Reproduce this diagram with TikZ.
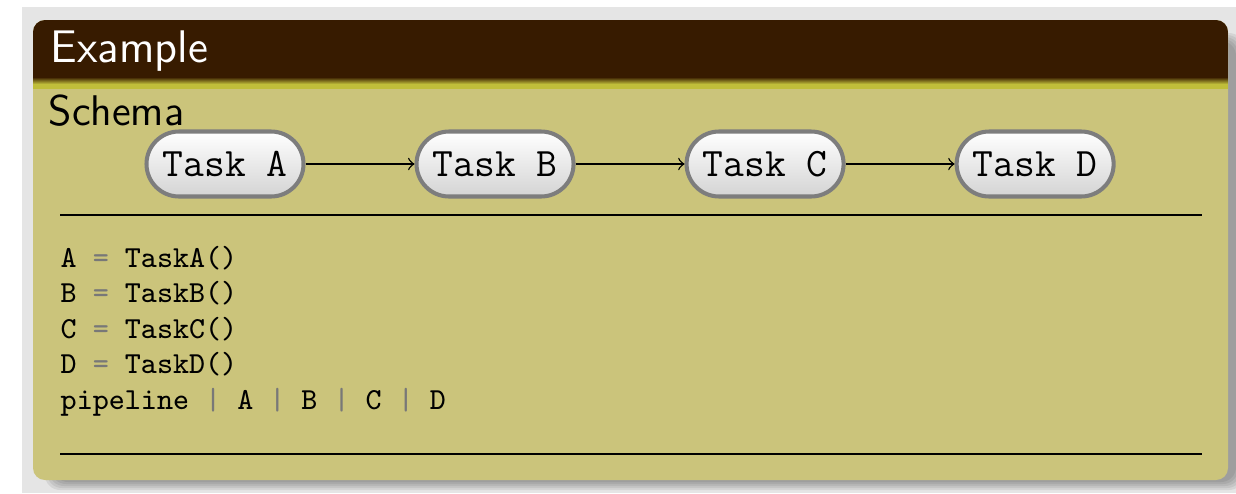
\documentclass[tikz,border=0pt]{standalone}
\usepackage{fontspec}
\usepackage{xcolor}
\usepackage{tikz}
\usetikzlibrary{positioning}

\definecolor{slidegray}{RGB}{229,229,229}
\definecolor{titlebrown}{RGB}{55,27,0}
\definecolor{stripegreen}{RGB}{192,190,58}
\definecolor{bodykhaki}{RGB}{203,196,123}
\definecolor{taskgray}{RGB}{125,125,125}
\definecolor{opgray}{RGB}{120,120,120}

\newcommand{\codeop}[1]{\textcolor{opgray}{#1}}

\tikzset{
  task/.style={draw=taskgray, line width=1.15pt, rounded corners=0.325cm,
    minimum width=1.57cm, minimum height=0.65cm, inner sep=0pt,
    top color=white, bottom color=black!17,
    font=\ttfamily\fontsize{11.5}{13}\selectfont},
  codeline/.style={anchor=base west, inner sep=0pt,
    font=\ttfamily\fontsize{8.7}{10}\selectfont},
  blocktext/.style={anchor=base west, inner sep=0pt,
    font=\sffamily\fontsize{12.2}{14}\selectfont}
}

\begin{document}
\begin{tikzpicture}
  \useasboundingbox (0,0) rectangle (12.36,4.93);
  \fill[slidegray] (0.22,0) rectangle (12.36,4.86);

  %% block shadow
  \foreach \k in {0,1,...,4}
    \fill[black, opacity=0.07, rounded corners=0.15cm]
      (0.45+0.02*\k, 0.03+0.02*\k) rectangle (12.44-0.02*\k, 4.60-0.02*\k);

  %% block
  \fill[bodykhaki, rounded corners=0.12cm] (0.33,0.13) rectangle (12.28,4.73);
  \begin{scope}
    \clip[rounded corners=0.12cm] (0.33,0.13) rectangle (12.28,4.73);
    \fill[stripegreen] (0.33,4.04) rectangle (12.28,4.15);
    \shade[top color=titlebrown, bottom color=stripegreen] (0.33,4.09) rectangle (12.28,4.16);
    \fill[titlebrown] (0.33,4.16) rectangle (12.28,4.73);
  \end{scope}

  %% titles
  \node[blocktext, text=white, font=\sffamily\fontsize{13}{15}\selectfont] (title) at (0.50,4.31) {Example};
  \node[blocktext] (schema) at (0.48,3.68) {Schema};

  %% tasks
  \node[task] (a) at (2.25,3.29) {Task A};
  \node[task, right=1.09cm of a] (b) {Task B};
  \node[task, right=1.09cm of b] (c) {Task C};
  \node[task, right=1.09cm of c] (d) {Task D};
  \draw[->] (a) -- (b);
  \draw[->] (b) -- (c);
  \draw[->] (c) -- (d);

  %% rules
  \coordinate (ruleA) at (0.60,2.78);
  \coordinate (ruleB) at (12.02,2.78);
  \coordinate (ruleC) at (0.60,0.39);
  \coordinate (ruleD) at (12.02,0.39);
  \draw[line width=0.45pt] (ruleA) -- (ruleB);
  \draw[line width=0.45pt] (ruleC) -- (ruleD);

  %% code
  \foreach \t [count=\i] in {A,B,C,D}
    \node[codeline] (code\i) at (0.60,2.26-0.355*\i+0.355) {\t{} \codeop{=} Task\t()};
  \node[codeline] (code5) at (0.60,0.84)
    {pipeline \codeop{|} A \codeop{|} B \codeop{|} C \codeop{|} D};
\end{tikzpicture}
\end{document}
